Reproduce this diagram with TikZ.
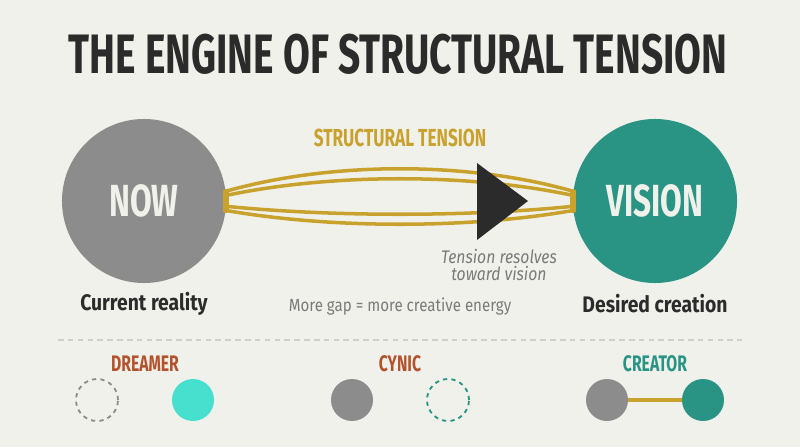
\documentclass[tikz,border=0pt]{standalone}
\usepackage{fontspec}
\setmainfont{Fira Sans}
\newfontfamily\headfont{Fira Sans}[FakeStretch=0.70]
\newfontfamily\labfont{Fira Sans}[FakeStretch=0.86]
\usepackage{tikz}
\usetikzlibrary{positioning,calc}

\definecolor{paper}{HTML}{F1F1EC}
\definecolor{ink}{HTML}{2B2B2B}
\definecolor{stone}{HTML}{8C8C8C}
\definecolor{teal}{HTML}{2A9484}
\definecolor{aqua}{HTML}{47E0CF}
\definecolor{gold}{HTML}{C9A22E}
\definecolor{rust}{HTML}{B3532E}
\definecolor{note}{HTML}{7A7A7A}
\definecolor{rule}{HTML}{CFCFCA}

\begin{document}
\begin{tikzpicture}[x=0.025cm, y=-0.025cm,
  blob/.style={circle, minimum size=4.1cm, inner sep=0pt, text=paper, font=\headfont\bfseries\fontsize{32}{32}\selectfont},
  lab/.style={font=\labfont\bfseries\fontsize{16}{18}\selectfont, text=ink},
  note/.style={font=\labfont\fontsize{12.5}{12.5}\selectfont, text=note},
  tag/.style={font=\headfont\bfseries\fontsize{16}{16}\selectfont},
  dot/.style={circle, minimum size=1.05cm, inner sep=0pt},
  ghost/.style={dot, draw, dash pattern=on 3pt off 3pt, line width=1.3pt},
  band/.style={draw=gold, line width=2.5pt},
  knot/.style={gold, line width=4.5pt, line cap=round}
]
\fill[paper] (0,0) rectangle (800,447);
\node[font=\headfont\bfseries\fontsize{39.5}{40}\selectfont, text=ink] (title) at (398,54) {THE ENGINE OF STRUCTURAL TENSION};

% the two poles
\node[blob, fill=stone] (now) at (144,201) {NOW};
\node[blob, fill=teal] (vision) at (655,201) {VISION};
\node[lab] (nowlab) at (144,304) {Current reality};
\node[lab] (vislab) at (655,304) {Desired creation};
\node[tag, text=gold, font=\headfont\bfseries\fontsize{17.5}{17.5}\selectfont] (tension) at (400,138) {STRUCTURAL TENSION};

% stretched bands between them
\foreach \dy/\bulge in {-9/-40, -5/-28, 5/16, 9/28} {
  \draw[band] ($(now.east)+(-3,\dy)$) .. controls ($(now.east)+(104,\bulge)$) and ($(vision.west)+(-103,\bulge)$) .. ($(vision.west)+(3,\dy)$);
}
% gathered ends
\draw[knot] ($(now.east)+(0,-9)$) -- ($(now.east)+(0,9)$);
\draw[knot] ($(vision.west)+(0,-9)$) -- ($(vision.west)+(0,9)$);
\fill[ink] (477,163) -- (477,240) -- (528,201) -- cycle;
\node[note, font=\labfont\itshape\fontsize{13}{11.5}\selectfont, align=center] (resolve) at (499,265) {Tension resolves\\toward vision};
\node[note] (gap) at (400,307) {More gap = more creative energy};

\draw[rule, line width=1pt, dash pattern=on 4pt off 3pt] (58,340) -- (742,340);

% three stances
\node[tag, text=rust] (dreamer) at (145,364) {DREAMER};
\node[ghost, draw=stone] (dreamA) at (97,400) {};
\node[dot, fill=aqua] (dreamB) at (193,400) {};
\node[tag, text=rust] (cynic) at (400,364) {CYNIC};
\node[dot, fill=stone] (cynA) at (352,400) {};
\node[ghost, draw=teal] (cynB) at (448,400) {};
\node[tag, text=teal] (creator) at (655,364) {CREATOR};
\node[dot, fill=stone] (creA) at (607,400) {};
\node[dot, fill=teal] (creB) at (703,400) {};
\draw[gold, line width=3.4pt] (creA) -- (creB);
\end{tikzpicture}
\end{document}
